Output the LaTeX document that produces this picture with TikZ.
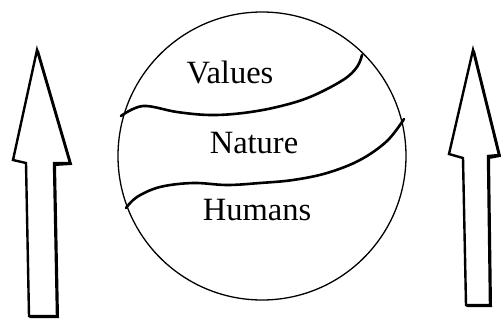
\documentclass[tikz,border=0pt]{standalone}
\usepackage{fontspec}
\setmainfont{Liberation Serif}
\begin{document}
\begin{tikzpicture}[x=1pt,y=-1pt,
  arrowshape/.style={draw=black,line width=2.4pt,line join=miter,fill=white},
  shade/.style={draw=black,line width=2pt,line cap=round},
  band/.style={draw=black,line width=2.6pt,line cap=round},
  label/.style={font=\fontsize{32.5}{34}\selectfont,inner sep=0pt,anchor=base}]
\useasboundingbox (0,0) rectangle (501,322);
% left arrow
\draw[arrowshape] (37,50) -- (70,163) -- (54,163) -- (57,316) -- (29,316) -- (26,163) -- (13,160) -- cycle;
\draw[shade] (38,51) -- (71,164) -- (55,165) -- (58,317) -- (30,317);
% right arrow
\draw[arrowshape] (473,50) -- (499,155) -- (488,156) -- (490,305) -- (466,305) -- (463,158) -- (449,154) -- cycle;
\draw[shade] (474,51) -- (500,156) -- (489,158) -- (491,306) -- (467,306);
% globe
\node[draw=black,line width=1.3pt,circle,minimum size=288pt,inner sep=0pt] (globe) at (262,156) {};
% bands
\draw[band] plot[smooth,tension=0.6] coordinates {(121,116) (143,106) (177,112) (210,115) (243,113) (277,107) (310,97) (343,80) (357,67) (362,55)};
\draw[band] plot[smooth,tension=0.6] coordinates {(126,208) (137,197) (160,187) (193,183) (227,185) (260,183) (293,180) (327,173) (360,160) (387,141) (404,119)};
% labels
\node[label] (values) at (230,83) {Values};
\node[label] (nature) at (254,153) {Nature};
\node[label] (humans) at (257,220) {Humans};
\end{tikzpicture}
\end{document}
